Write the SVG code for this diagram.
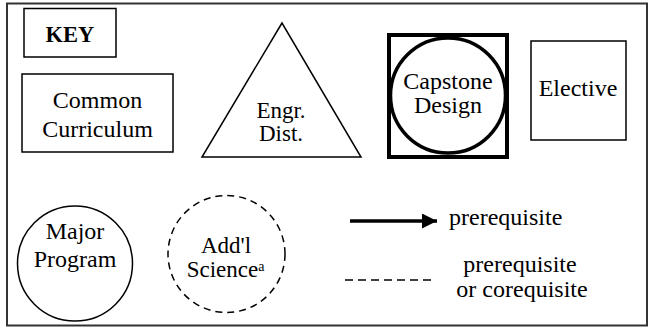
<svg xmlns="http://www.w3.org/2000/svg" width="654" height="330" viewBox="0 0 654 330">
<style>
text{font-family:"Liberation Serif","Times New Roman",serif;font-size:24px;fill:#000;text-anchor:middle}
.s{fill:#fff;stroke:#000;stroke-width:1.5}
.b{font-weight:bold;font-size:22.5px}
.m{font-size:23px}
</style>
<defs>
<marker id="ah" markerWidth="16" markerHeight="15" refX="15" refY="7.5" markerUnits="userSpaceOnUse" orient="auto">
<path d="M0,0 L15,7.5 L0,15 Z" fill="#000"/>
</marker>
</defs>
<rect x="7" y="3.5" width="640" height="322" fill="#fff" stroke="#333" stroke-width="2"/>
<g id="key"><rect class="s" x="24" y="8.5" width="92" height="48.5"/><text class="b" x="70" y="42">KEY</text></g>
<g id="common"><rect class="s" x="22" y="74" width="151" height="78"/><text x="97.5" y="108">Common</text><text x="97.5" y="137">Curriculum</text></g>
<g id="engr"><polygon class="s" points="282,23 202,157 361,157"/><text class="m" x="281" y="117.5">Engr.</text><text class="m" x="281" y="140.5">Dist.</text></g>
<g id="capstone"><rect x="389" y="35" width="118" height="122" fill="#fff" stroke="#000" stroke-width="4"/><circle cx="448" cy="95.5" r="57.5" fill="#fff" stroke="#000" stroke-width="3.5"/><text x="448" y="88.5">Capstone</text><text x="448" y="112.5">Design</text></g>
<g id="elective"><rect class="s" x="531" y="41" width="95" height="99"/><text x="578" y="96">Elective</text></g>
<g id="major"><circle class="s" cx="75" cy="263.5" r="57.5"/><text x="75" y="239">Major</text><text x="75" y="267">Program</text></g>
<g id="addl"><circle class="s" cx="226.5" cy="254" r="58.5" stroke-dasharray="7,5"/><text class="m" x="226" y="253">Add'l</text><text class="m" x="225.5" y="277">Science<tspan font-size="14" dy="-6">a</tspan></text></g>
<g id="connectors">
<line x1="350" y1="221" x2="437" y2="221" stroke="#000" stroke-width="3.5" marker-end="url(#ah)"/>
<line x1="345" y1="280" x2="432" y2="280" stroke="#000" stroke-width="1.5" stroke-dasharray="8,5"/>
</g>
<g id="legend-text">
<text x="449" y="225" style="text-anchor:start">prerequisite</text>
<text x="520" y="272">prerequisite</text>
<text x="522" y="297">or corequisite</text>
</g>
</svg>
